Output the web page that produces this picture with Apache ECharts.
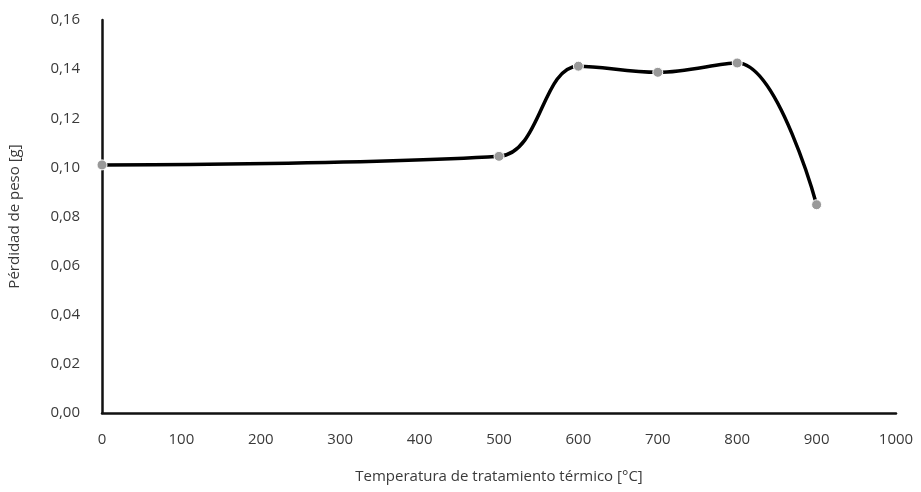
<!DOCTYPE html>
<html>
<head>
<meta charset="utf-8">
<script src="https://cdn.jsdelivr.net/npm/echarts@6/dist/echarts.min.js"></script>
<style>
  html, body { margin: 0; padding: 0; background: #fff; }
  #chart { width: 921px; height: 492px; }
</style>
</head>
<body>
<div id="chart"></div>
<script>
// temperatura [°C] y pérdida de peso [g]
var temperaturas = [0, 500, 600, 700, 800, 900];
var perdidas = [0.101, 0.1045, 0.1412, 0.1387, 0.1425, 0.0848];
var xTicks = [0, 100, 200, 300, 400, 500, 600, 700, 800, 900, 1000];
var yTicks = [0, 0.02, 0.04, 0.06, 0.08, 0.10, 0.12, 0.14, 0.16];

var puntos = temperaturas.map(function (t, i) { return [t, perdidas[i]]; });

var myChart = echarts.init(document.getElementById('chart'));
myChart.setOption({
  animation: false,
  textStyle: { fontFamily: 'Open Sans' },
  grid: { left: 102, right: 25, top: 20, bottom: 79, outerBoundsMode: 'none' },
  xAxis: {
    type: 'value',
    min: xTicks[0],
    max: xTicks[xTicks.length - 1],
    interval: 100,
    name: 'Temperatura de tratamiento térmico [°C]',
    nameLocation: 'middle',
    nameGap: 56,
    nameTextStyle: { color: '#3a3a3a', fontSize: 15 },
    axisLine: { lineStyle: { color: '#111', width: 2.5 } },
    axisTick: { show: false },
    splitLine: { show: false },
    axisLabel: {
      color: '#3a3a3a', fontSize: 15, margin: 19,
      formatter: function (v) { return String(v); }
    }
  },
  yAxis: {
    type: 'value',
    min: yTicks[0],
    max: yTicks[yTicks.length - 1],
    interval: 0.02,
    name: 'Pérdidad de peso [g]',
    nameLocation: 'middle',
    nameGap: 80,
    nameTextStyle: { color: '#3a3a3a', fontSize: 15 },
    axisLine: { show: true, lineStyle: { color: '#111', width: 2.5 } },
    axisTick: { show: false },
    splitLine: { show: false },
    axisLabel: {
      color: '#3a3a3a', fontSize: 15, margin: 22,
      formatter: function (v) { return v.toFixed(2).replace('.', ','); }
    }
  },
  series: [{
    type: 'line',
    data: puntos,
    smooth: 0.38,
    symbol: 'circle',
    symbolSize: 10,
    lineStyle: { color: '#000', width: 3.5 },
    itemStyle: { color: '#999', borderColor: '#fff', borderWidth: 1 }
  }]
});
</script>
</body>
</html>
